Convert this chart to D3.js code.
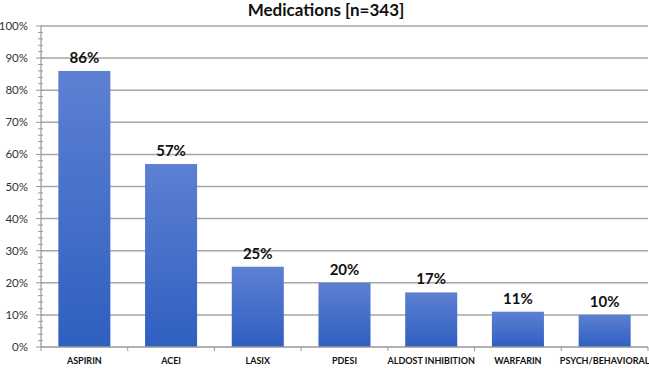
<!DOCTYPE html>
<html>
<head>
<meta charset="utf-8">
<script src="https://cdn.jsdelivr.net/npm/d3@7"></script>
<style>
  body { margin: 0; background: #fff; }
  text { font-family: Lato, "Open Sans", sans-serif; }
</style>
</head>
<body>
<script>
// data
const categories = ['ASPIRIN', 'ACEI', 'LASIX', 'PDESI', 'ALDOST INHIBITION', 'WARFARIN', 'PSYCH/BEHAVIORAL'];
const values = [86, 57, 25, 20, 17, 11, 10];
const yTicks = [0, 10, 20, 30, 40, 50, 60, 70, 80, 90, 100];

const W = 649, H = 368;
const m = {left: 41, right: 1, top: 26, bottom: 21};

const svg = d3.select('body').append('svg')
  .attr('width', W).attr('height', H);

const defs = svg.append('defs');
const grad = defs.append('linearGradient').attr('id', 'barGrad')
  .attr('x1', 0).attr('y1', 0).attr('x2', 0).attr('y2', 1);
grad.append('stop').attr('offset', '0%').attr('stop-color', '#5d80d2');
grad.append('stop').attr('offset', '100%').attr('stop-color', '#2f5fc1');

const x = d3.scaleBand().domain(categories)
  .range([m.left, W - m.right]).paddingInner(0.4).paddingOuter(0.2);
const y = d3.scaleLinear().domain([0, 100]).range([H - m.bottom, m.top]);

// title
svg.append('text').attr('x', 326).attr('y', 16)
  .attr('text-anchor', 'middle').style('font-weight', 'bold').style('font-size', '17px')
  .style('fill', '#111').text('Medications [n=343]');

// gridlines
svg.append('g').selectAll('line').data(yTicks.slice(1)).join('line')
  .attr('x1', m.left).attr('x2', W - m.right)
  .attr('y1', d => y(d)).attr('y2', d => y(d))
  .style('stroke', '#a6a6a6').style('stroke-width', 1.5);

// y axis with minor ticks
const minor = d3.range(0, 101, 2);
svg.append('g').selectAll('line').data(minor).join('line')
  .attr('x1', d => d % 10 === 0 ? 36 : 38).attr('x2', 43)
  .attr('y1', d => y(d)).attr('y2', d => y(d))
  .style('stroke', '#999').style('stroke-width', 1);
svg.append('line').attr('x1', m.left).attr('x2', m.left)
  .attr('y1', y(0)).attr('y2', y(100)).style('stroke', '#999').style('stroke-width', 1.2);

svg.append('g').selectAll('text').data(yTicks).join('text')
  .attr('x', 28).attr('y', d => y(d) + 4)
  .attr('text-anchor', 'end').style('font-size', '11.5px').style('fill', '#333')
  .text(d => d + '%');

// bars
svg.append('g').selectAll('rect').data(values).join('rect')
  .attr('x', (d, i) => x(categories[i]))
  .attr('width', x.bandwidth())
  .attr('y', d => y(d))
  .attr('height', d => y(0) - y(d))
  .style('fill', 'url(#barGrad)');

// value labels
svg.append('g').selectAll('text').data(values).join('text')
  .attr('x', (d, i) => x(categories[i]) + x.bandwidth() / 2)
  .attr('y', d => y(d) - 8)
  .attr('text-anchor', 'middle').style('font-weight', 'bold').style('font-size', '15px')
  .style('fill', '#111').text(d => d + '%');

// x axis
svg.append('line').attr('x1', m.left).attr('x2', W - m.right)
  .attr('y1', y(0)).attr('y2', y(0)).style('stroke', '#999').style('stroke-width', 1.5);
svg.append('g').selectAll('line').data(d3.range(categories.length + 1)).join('line')
  .attr('x1', i => m.left + i * (W - m.right - m.left) / categories.length)
  .attr('x2', i => m.left + i * (W - m.right - m.left) / categories.length)
  .attr('y1', y(0)).attr('y2', y(0) + 4)
  .style('stroke', '#999');

svg.append('g').selectAll('text').data(categories).join('text')
  .attr('x', d => x(d) + x.bandwidth() / 2)
  .attr('y', 364)
  .attr('text-anchor', 'middle').style('font-weight', 'bold').style('font-size', '9px')
  .style('fill', '#111').text(d => d);
</script>
</body>
</html>
